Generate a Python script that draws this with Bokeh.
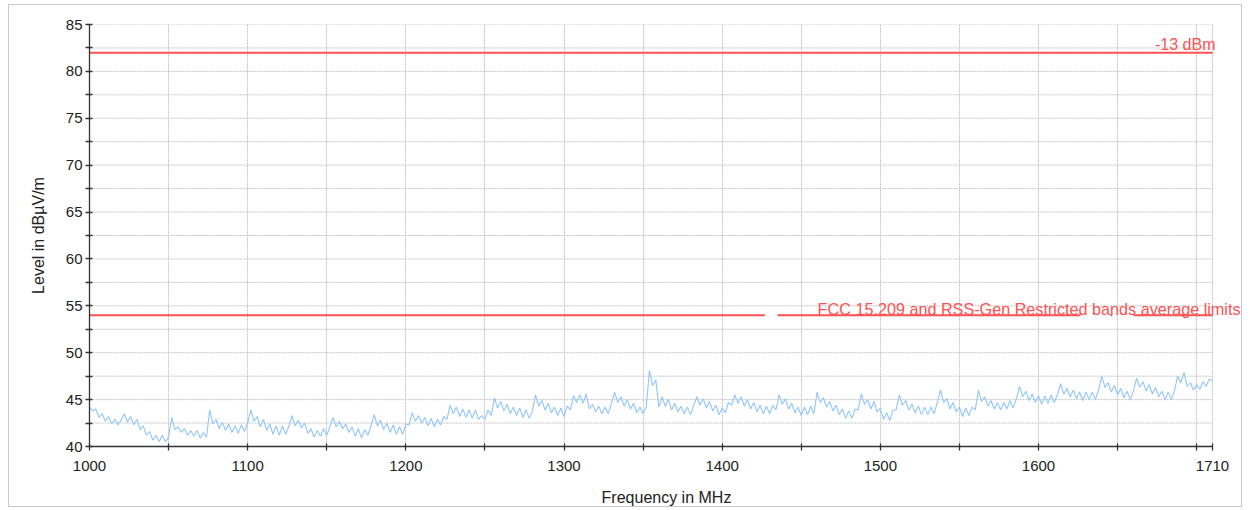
from bokeh.plotting import figure
from bokeh.models import Range1d, FixedTicker, Label, CustomJSTickFormatter
from bokeh.embed import file_html
from bokeh.resources import INLINE

# ---------------- data ----------------
freq_start = 1000   # MHz
freq_step = 2       # MHz

level = [
    # 1000 - 1048
    44.2, 43.8, 44.0, 43.1, 43.5, 42.7, 43.2, 42.4, 42.9, 42.3, 42.8, 43.5, 42.6, 43.2, 42.3, 42.9, 41.8, 42.2, 41.2, 41.6, 40.7, 41.2, 40.5, 41.2, 40.5,
    # 1050 - 1098
    41.0, 43.1, 41.8, 42.1, 41.5, 41.9, 41.2, 41.7, 41.1, 41.7, 40.9, 41.5, 41.0, 43.9, 42.4, 42.9, 41.9, 42.6, 41.7, 42.4, 41.5, 42.2, 41.4, 42.3, 41.6,
    # 1100 - 1148
    42.5, 43.9, 42.7, 43.2, 42.1, 42.9, 41.7, 42.4, 41.3, 42.2, 41.2, 42.2, 41.3, 42.1, 43.3, 42.2, 42.8, 42.0, 42.5, 41.4, 41.9, 41.0, 41.7, 41.1, 41.9,
    # 1150 - 1198
    41.2, 42.1, 43.1, 42.1, 42.7, 41.9, 42.4, 41.5, 42.1, 41.1, 41.9, 40.9, 41.8, 41.2, 42.2, 43.4, 42.2, 42.8, 41.8, 42.5, 41.5, 42.3, 41.3, 42.1, 41.3,
    # 1200 - 1248
    42.4, 42.3, 43.6, 42.7, 43.3, 42.5, 43.1, 42.2, 43.0, 42.1, 42.9, 42.3, 43.2, 42.9, 44.4, 43.5, 44.2, 43.2, 44.0, 43.1, 43.9, 43.0, 43.9, 42.9, 43.3,
    # 1250 - 1298
    42.9, 43.9, 43.3, 45.2, 44.1, 44.8, 43.8, 44.5, 43.5, 44.2, 43.3, 44.1, 43.1, 43.9, 43.0, 43.8, 45.5, 44.3, 44.9, 43.9, 44.6, 43.6, 44.2, 43.3, 44.1,
    # 1300 - 1348
    43.2, 44.3, 43.9, 45.4, 44.7, 45.5, 44.6, 45.6, 44.0, 44.5, 43.7, 44.3, 43.5, 44.2, 43.5, 44.6, 45.8, 44.7, 45.3, 44.3, 45.0, 44.0, 44.6, 43.6, 44.2,
    # 1350 - 1398
    43.5, 44.2, 48.1, 46.5, 47.1, 44.2, 45.3, 44.3, 45.0, 43.9, 44.6, 43.7, 44.3, 43.5, 44.2, 43.4, 44.4, 45.3, 44.4, 45.1, 44.1, 44.8, 43.8, 44.4, 43.4,
    # 1400 - 1448
    44.1, 43.6, 44.7, 44.4, 45.5, 44.6, 45.3, 44.3, 45.0, 44.0, 44.7, 43.7, 44.4, 43.5, 44.3, 43.5, 44.4, 43.9, 45.5, 44.5, 45.1, 44.0, 44.6, 43.6, 44.2,
    # 1450 - 1498
    43.3, 44.2, 43.4, 44.3, 43.5, 45.8, 44.7, 45.2, 44.2, 44.8, 43.8, 44.4, 43.4, 44.0, 43.0, 43.8, 43.0, 44.0, 43.9, 45.6, 44.5, 45.0, 44.0, 44.8, 43.7,
    # 1500 - 1548
    44.1, 42.9, 43.6, 42.8, 43.9, 43.9, 45.5, 44.4, 44.9, 43.9, 44.5, 43.6, 44.3, 43.4, 44.2, 43.4, 44.2, 43.5, 44.7, 46.0, 44.7, 45.1, 44.0, 44.7, 43.7,
    # 1550 - 1598
    44.2, 43.2, 44.1, 43.3, 44.2, 43.9, 46.0, 44.8, 45.3, 44.3, 44.9, 44.0, 44.7, 43.9, 44.7, 44.0, 44.9, 44.1, 45.1, 46.4, 45.3, 45.9, 44.9, 45.6, 44.7,
    # 1600 - 1648
    45.4, 44.5, 45.4, 44.6, 45.5, 44.7, 45.6, 46.7, 45.6, 46.2, 45.3, 46.0, 45.1, 45.8, 44.9, 45.8, 45.0, 45.8, 45.0, 46.1, 47.5, 46.3, 46.8, 45.8, 46.5,
    # 1650 - 1698
    45.5, 46.2, 45.2, 45.9, 45.0, 45.9, 47.3, 46.3, 46.9, 45.9, 46.6, 45.6, 46.3, 45.3, 45.9, 45.0, 45.8, 45.0, 46.0, 47.5, 46.8, 47.9, 46.4, 46.8, 46.0,
    # 1700 - 1710
    46.6, 46.1, 46.9, 46.4, 47.2, 47.0,
]
freq = [freq_start + i * freq_step for i in range(len(level))]

limit_1_level = 82.0
limit_1_start = [1000]
limit_1_end = [1710]
limit_1_label = "-13 dBm"

limit_2_level = 54.0
limit_2_start = [1000, 1435, 1645.5, 1660]
limit_2_end = [1427, 1626.5, 1646.5, 1710]
limit_2_label = "FCC 15.209 and RSS-Gen Restricted bands average limits"

x_min, x_max = 1000, 1710
y_min, y_max = 40, 85
x_ticks = [1000, 1050, 1100, 1150, 1200, 1250, 1300, 1350, 1400, 1450, 1500,
           1550, 1600, 1650, 1700, 1710]
x_labelled = [1000, 1100, 1200, 1300, 1400, 1500, 1600, 1710]
y_ticks = [40, 42.5, 45, 47.5, 50, 52.5, 55, 57.5, 60, 62.5, 65, 67.5, 70,
           72.5, 75, 77.5, 80, 82.5, 85]

x_title = "Frequency in MHz"
y_title = "Level in dBµV/m"

# ---------------- figure ----------------
FONT = "Liberation Sans"
RED = "#ff5252"
GRID = "#c4c4c4"
X_VIEW_END = 1729.6   # the plot area runs on to the outer border, axis stops at 1710

p = figure(width=1234, height=503, output_backend="svg", toolbar_location=None,
           x_range=Range1d(x_min, X_VIEW_END), y_range=Range1d(y_min, y_max),
           min_border_left=80, min_border_right=0, min_border_top=19,
           min_border_bottom=61)
p.styles = {"border": "1px solid #c8c8c8", "margin-left": "8px",
            "margin-top": "4px"}
p.outline_line_color = None
p.background_fill_color = "white"
p.border_fill_color = "white"

p.xaxis.ticker = FixedTicker(ticks=x_ticks)
p.yaxis.ticker = FixedTicker(ticks=y_ticks)
p.xaxis.formatter = CustomJSTickFormatter(
    args=dict(lab=x_labelled),
    code="return lab.includes(tick) ? tick.toString() : '';")
p.yaxis.formatter = CustomJSTickFormatter(
    code="return (tick % 5 == 0) ? tick.toString() : '';")
p.xaxis.bounds = (x_min, x_max)

for ax in (p.xaxis[0], p.yaxis[0]):
    ax.axis_line_color = "#333333"
    ax.axis_line_width = 1.3
    ax.major_tick_line_color = "#333333"
    ax.major_tick_line_width = 1.3
    ax.major_tick_in = 3
    ax.major_tick_out = 4
    ax.minor_tick_line_color = None
    ax.major_label_text_font = FONT
    ax.major_label_text_font_size = "15px"
    ax.major_label_text_color = "#222222"
    ax.axis_label_text_font = FONT
    ax.axis_label_text_font_size = "16px"
    ax.axis_label_text_font_style = "normal"
    ax.axis_label_text_color = "#222222"

p.xaxis.axis_label = x_title
p.yaxis.axis_label = y_title
p.xaxis.major_label_standoff = 10
p.xaxis.axis_label_standoff = 15
p.yaxis.major_label_standoff = 3
p.yaxis.axis_label_standoff = 16

p.xgrid[0].grid_line_color = GRID
p.xgrid[0].grid_line_dash = "2 1"
p.ygrid[0].grid_line_color = None
# horizontal grid lines only across the measured span
p.segment(x0=[x_min] * len(y_ticks), y0=y_ticks,
          x1=[x_max] * len(y_ticks), y1=y_ticks,
          line_color=GRID, line_dash="2 1", line_width=1, level="underlay")

# measurement trace
p.line(freq, level, line_color="#90c6fc", line_width=1.1)

# limit lines
p.segment(x0=limit_1_start, y0=[limit_1_level] * len(limit_1_start),
          x1=limit_1_end, y1=[limit_1_level] * len(limit_1_end),
          line_color=RED, line_width=2)
p.segment(x0=limit_2_start, y0=[limit_2_level] * len(limit_2_start),
          x1=limit_2_end, y1=[limit_2_level] * len(limit_2_end),
          line_color=RED, line_width=2)

p.add_layout(Label(x=limit_1_end[-1], y=limit_1_level, text=limit_1_label,
                   text_align="right", text_baseline="alphabetic",
                   x_offset=3, y_offset=8.5, text_font=FONT,
                   text_font_size="16px", text_color=RED))
p.add_layout(Label(x=limit_2_end[-1], y=limit_2_level, text=limit_2_label,
                   text_align="right", text_baseline="alphabetic",
                   x_offset=28, y_offset=6.5, text_font=FONT,
                   text_font_size="16.2px", text_color=RED))

open("out.html", "w").write(file_html(p, INLINE))
